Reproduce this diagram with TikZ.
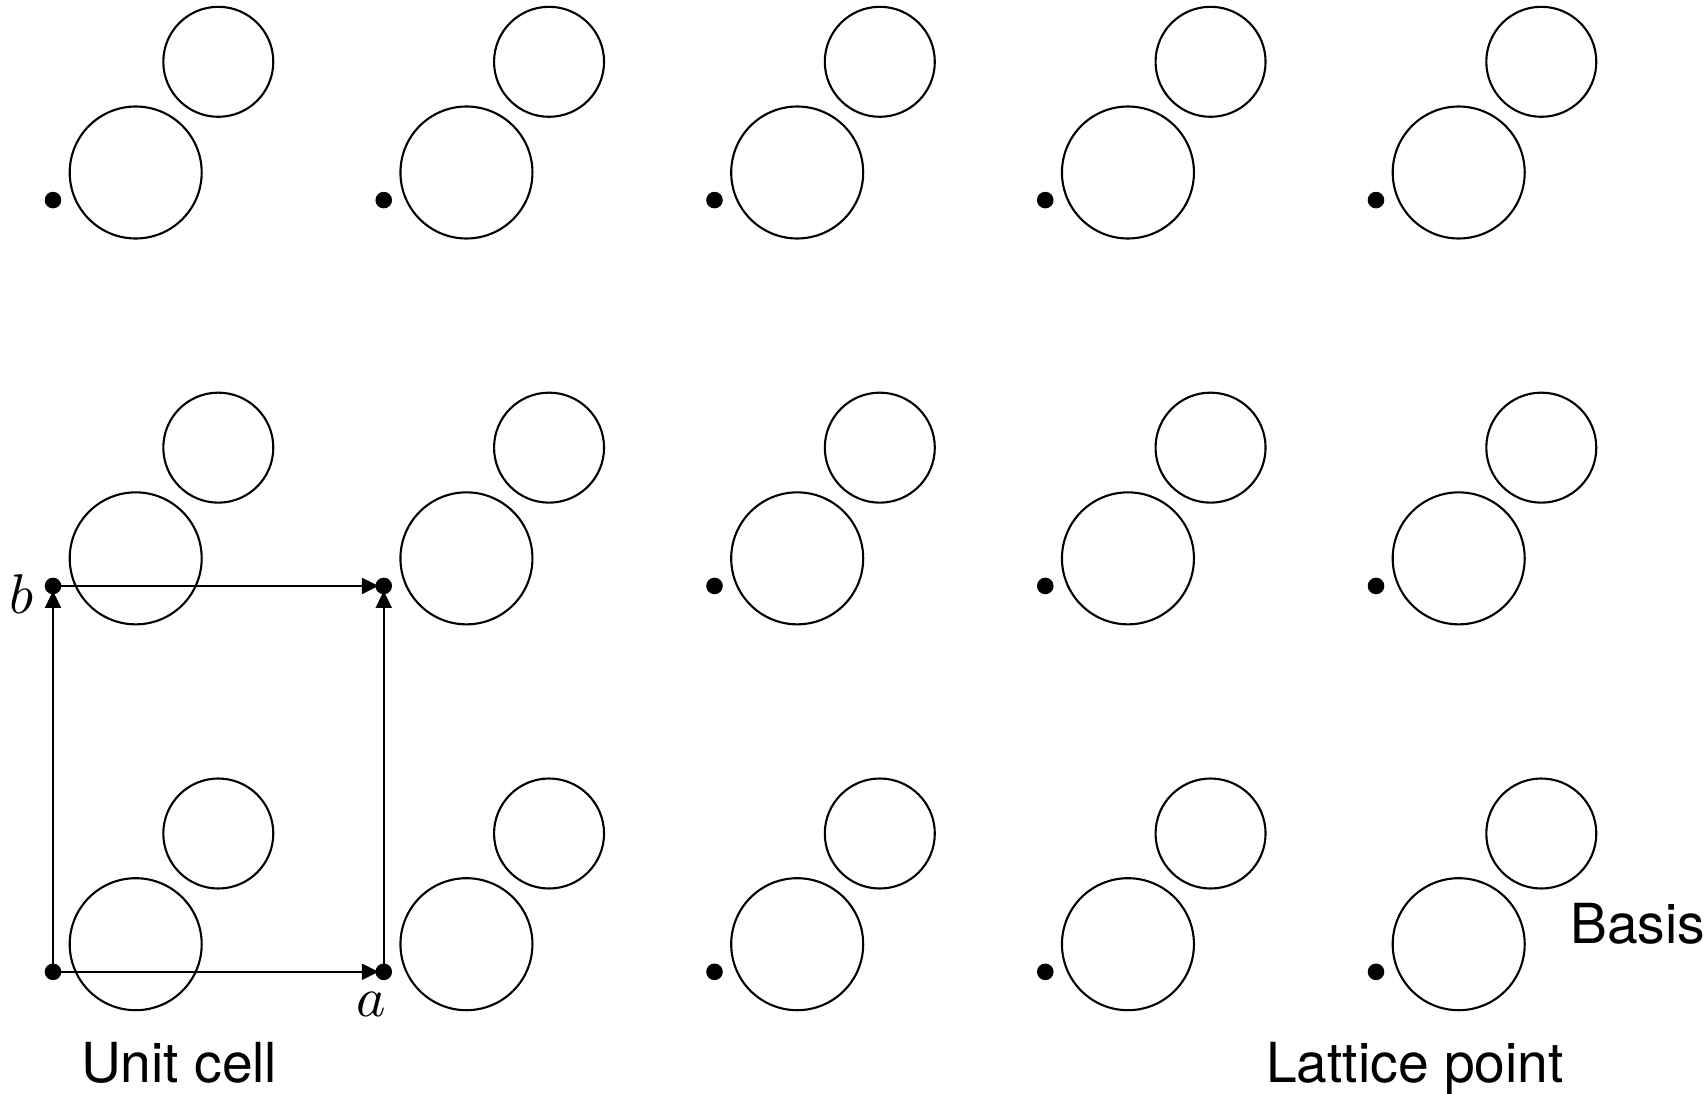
\documentclass[tikz,border=0pt]{standalone}
\usepackage{fontspec}
\setmainfont{TeX Gyre Heros}
\usetikzlibrary{arrows.meta}
\tikzset{
  big/.style={circle,draw,line width=2.1pt,minimum size=132pt,inner sep=0pt},
  small/.style={circle,draw,line width=2.1pt,minimum size=110pt,inner sep=0pt},
  latdot/.style={circle,fill=black,minimum size=16.6pt,inner sep=0pt},
  vec/.style={line width=2.1pt,shorten >=-3.5pt,-{Triangle[length=17pt,width=16pt]}},
  lab/.style={inner sep=0pt,anchor=base west,font=\fontsize{55.2}{60}\selectfont},
  mlab/.style={inner sep=0pt,anchor=base,scale=5.6}
}
\begin{document}
\begin{tikzpicture}[x=1pt,y=-1pt]
\useasboundingbox (0,0) rectangle (1708,1094);
\foreach \c in {0,...,4}{
  \foreach \r in {0,1,2}{
    \pgfmathsetmacro{\X}{53+330.75*\c}
    \pgfmathsetmacro{\Y}{200.1+385.85*\r}
    \node[latdot] (d\c\r) at (\X,\Y) {};
    \node[big] (g\c\r) at (\X+82.7,\Y-27.6) {};
    \node[small] (s\c\r) at (\X+165.3,\Y-138.3) {};
  }
}
\draw[vec] (d02.center) -- (d12);
\draw[vec] (d02.center) -- (d01);
\draw[vec] (d01.center) -- (d11);
\draw[vec] (d12.center) -- (d11);
\node[mlab] (la) at (371.5,1016) {$a$};
\node[mlab] (lb) at (22,613) {$b$};
\node[lab] (uc) at (81,1082) {Unit cell};
\node[lab] (lp) at (1266,1082) {Lattice point};
\node[lab] (bs) at (1570,943) {Basis};
\end{tikzpicture}
\end{document}
